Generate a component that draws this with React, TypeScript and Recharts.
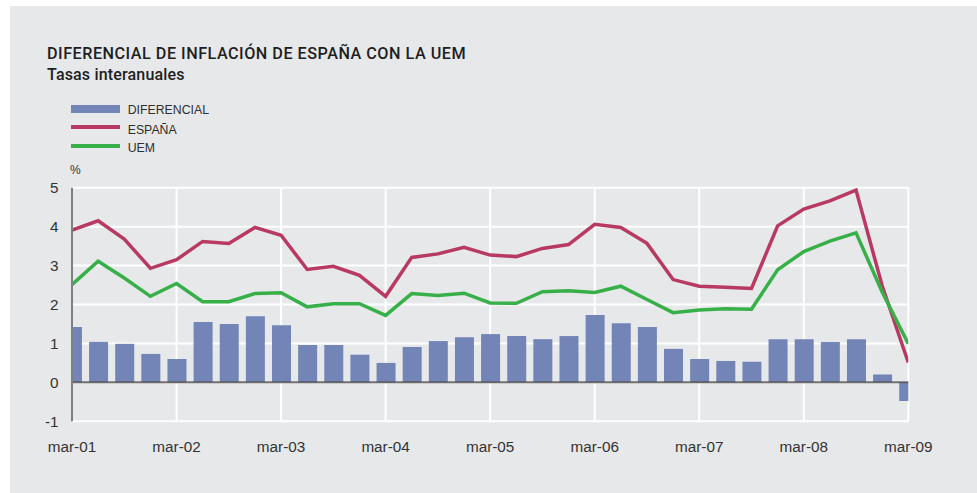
import React from 'react';
import {
  ComposedChart,
  Bar,
  Line,
  XAxis,
  YAxis,
  CartesianGrid,
  ReferenceLine,
} from 'recharts';

// Quarterly observations, mar-01 .. mar-09 (33 quarters)
const quarters: number[] = Array.from({ length: 33 }, (_, i) => i);

const diferencial: number[] = [
  1.42, 1.04, 0.99, 0.73, 0.6, 1.55, 1.5, 1.7, 1.47, 0.96, 0.96, 0.71, 0.5,
  0.91, 1.06, 1.16, 1.24, 1.19, 1.11, 1.19, 1.73, 1.52, 1.42, 0.86, 0.6, 0.55,
  0.53, 1.11, 1.11, 1.04, 1.11, 0.2, -0.48,
];

const espana: number[] = [
  3.91, 4.15, 3.68, 2.93, 3.15, 3.62, 3.57, 3.98, 3.78, 2.9, 2.98, 2.75, 2.21,
  3.21, 3.3, 3.47, 3.27, 3.23, 3.44, 3.54, 4.06, 3.98, 3.57, 2.64, 2.47, 2.44,
  2.41, 4.02, 4.45, 4.66, 4.94, 2.48, 0.51,
];

const uem: number[] = [
  2.51, 3.11, 2.68, 2.21, 2.54, 2.07, 2.07, 2.28, 2.3, 1.94, 2.02, 2.02, 1.72,
  2.28, 2.23, 2.29, 2.04, 2.03, 2.33, 2.35, 2.31, 2.47, 2.13, 1.79, 1.86, 1.89,
  1.88, 2.89, 3.36, 3.63, 3.84, 2.32, 0.99,
];

const xTickPositions: number[] = [0, 4, 8, 12, 16, 20, 24, 28, 32];
const xTickLabels: string[] = [
  'mar-01', 'mar-02', 'mar-03', 'mar-04', 'mar-05', 'mar-06', 'mar-07', 'mar-08', 'mar-09',
];
const yTicks: number[] = [-1, 0, 1, 2, 3, 4, 5];

const data = quarters.map((q, i) => ({
  q,
  diferencial: diferencial[i],
  espana: espana[i],
  uem: uem[i],
}));

const BAR = '#7384b6';
const RED = '#b83a62';
const GREEN = '#38b049';
const FONT = '"Liberation Sans", Arial, Helvetica, sans-serif';
const TITLE_FONT = 'Roboto, "Liberation Sans", Arial, sans-serif';

const legendItems = [
  { label: 'DIFERENCIAL', color: BAR, top: 103.6, sy: 105.3, sh: 8 },
  { label: 'ESPAÑA', color: RED, top: 123.6, sy: 124.7, sh: 4 },
  { label: 'UEM', color: GREEN, top: 142.3, sy: 144.3, sh: 4 },
];

export default function App() {
  return (
    <div
      style={{
        position: 'absolute',
        left: 0,
        top: 0,
        width: 977,
        height: 493,
        background: '#ffffff',
        overflow: 'hidden',
        fontFamily: FONT,
      }}
    >
      <div
        style={{
          position: 'absolute',
          left: 10,
          top: 6,
          width: 967,
          height: 487,
          background: '#e7e8ea',
        }}
      />
      <div
        style={{
          position: 'absolute',
          left: 47,
          top: 45.5,
          fontFamily: TITLE_FONT,
          fontSize: 16.2,
          lineHeight: '16.2px',
          fontWeight: 500,
          letterSpacing: 0.5,
          color: '#1e1e1e',
          whiteSpace: 'nowrap',
        }}
      >
        DIFERENCIAL DE INFLACIÓN DE ESPAÑA CON LA UEM
      </div>
      <div
        style={{
          position: 'absolute',
          left: 47,
          top: 66.5,
          fontFamily: TITLE_FONT,
          fontSize: 16,
          lineHeight: '16px',
          fontWeight: 500,
          letterSpacing: 0.17,
          color: '#1e1e1e',
          whiteSpace: 'nowrap',
        }}
      >
        Tasas interanuales
      </div>
      {legendItems.map((it) => (
        <React.Fragment key={it.label}>
          <div
            style={{
              position: 'absolute',
              left: 71,
              top: it.sy,
              width: 49,
              height: it.sh,
              background: it.color,
            }}
          />
          <div
            style={{
              position: 'absolute',
              left: 127.7,
              top: it.top,
              fontSize: 12.3,
              lineHeight: '12.3px',
              color: '#2e2e2e',
              whiteSpace: 'nowrap',
            }}
          >
            {it.label}
          </div>
        </React.Fragment>
      ))}
      <div
        style={{
          position: 'absolute',
          left: 70,
          top: 164,
          fontSize: 12,
          lineHeight: '12px',
          color: '#333',
        }}
      >
        %
      </div>
      <div style={{ position: 'absolute', left: 0, top: 0 }}>
        <ComposedChart
          width={977}
          height={493}
          data={data}
          margin={{ top: 187.7, right: 68.7, bottom: 41.7, left: 32 }}
        >
          <CartesianGrid stroke="#ffffff" strokeWidth={2} />
          <XAxis
            dataKey="q"
            type="number"
            domain={[0, 32]}
            ticks={xTickPositions}
            tickFormatter={(v: number) => xTickLabels[xTickPositions.indexOf(v)] ?? ''}
            interval={0}
            allowDataOverflow
            axisLine={false}
            tickLine={false}
            tickSize={0}
            tickMargin={19.6}
            height={30}
            tick={{ fontSize: 15.3, fill: '#333333', fontFamily: FONT }}
          />
          <YAxis
            type="number"
            domain={[-1, 5]}
            ticks={yTicks}
            interval={0}
            width={40}
            axisLine={{ stroke: '#7f7f7f', strokeWidth: 2 }}
            tickLine={false}
            tickSize={0}
            tickMargin={13.5}
            tick={{ fontSize: 15.3, fill: '#333333', fontFamily: FONT }}
          />
          <Bar dataKey="diferencial" fill={BAR} barSize={19} isAnimationActive={false} />
          <ReferenceLine y={0} stroke="#555555" strokeWidth={2} strokeOpacity={0.85} />
          <Line
            dataKey="espana"
            type="linear"
            stroke={RED}
            strokeWidth={3.5}
            dot={false}
            activeDot={false}
            isAnimationActive={false}
          />
          <Line
            dataKey="uem"
            type="linear"
            stroke={GREEN}
            strokeWidth={3.5}
            dot={false}
            activeDot={false}
            isAnimationActive={false}
          />
        </ComposedChart>
      </div>
    </div>
  );
}
